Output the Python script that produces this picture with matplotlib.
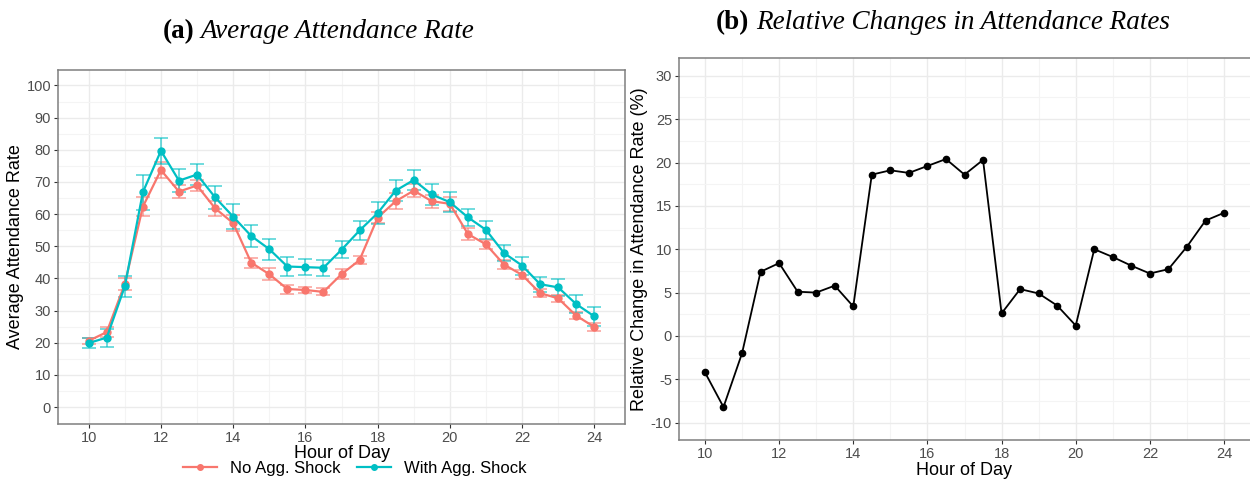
import numpy as np
from matplotlib import pyplot as plt
from matplotlib.lines import Line2D

# half-hour slots from 10:00 to 24:00
hours = np.arange(10, 24.5, 0.5)

no_shock = [20.6, 23.3, 38.3, 62.3, 73.7, 67.0, 68.9, 61.8, 57.2, 44.9, 41.3, 36.7, 36.4, 35.8, 41.3,
            45.7, 58.9, 64.0, 67.3, 64.0, 63.2, 53.8, 50.6, 44.3, 41.1, 35.4, 33.8, 28.4, 24.9]
no_shock_err = [1.0, 1.6, 1.8, 2.9, 2.6, 1.9, 1.8, 2.4, 2.5, 1.6, 1.9, 1.4, 1.0, 1.1, 1.6,
                1.3, 1.7, 2.5, 2.1, 2.0, 2.1, 1.9, 1.4, 1.5, 1.4, 1.2, 1.0, 1.1, 1.2]
with_shock = [19.9, 21.6, 37.5, 66.8, 79.7, 70.4, 72.3, 65.2, 59.2, 53.2, 49.1, 43.7, 43.5, 43.3, 48.9,
              54.9, 60.3, 67.3, 70.6, 66.1, 63.7, 59.0, 55.1, 47.9, 44.0, 38.2, 37.2, 32.0, 28.2]
with_shock_err = [1.6, 2.8, 3.4, 5.4, 4.1, 3.5, 3.4, 3.5, 3.8, 3.3, 3.3, 3.1, 2.5, 2.5, 2.7,
                  2.9, 3.4, 3.3, 3.0, 3.3, 3.1, 2.7, 2.7, 2.6, 2.8, 2.3, 2.7, 2.9, 2.9]
rel_change = [-4.2, -8.2, -2.0, 7.4, 8.4, 5.1, 5.0, 5.8, 3.4, 18.6, 19.1, 18.8, 19.6, 20.4, 18.6,
              20.3, 2.6, 5.4, 4.9, 3.5, 1.2, 10.0, 9.1, 8.1, 7.2, 7.7, 10.3, 13.3, 14.2]

red = '#F8766D'
cyan = '#00BFC4'
tick_gray = '#4D4D4D'

plt.rcParams['font.family'] = ['Liberation Sans', 'DejaVu Sans']
plt.rcParams['axes.unicode_minus'] = False

fig = plt.figure(figsize=(12.5, 4.83), dpi=100)
ax1 = fig.add_axes([0.0464, 0.122, 0.4536, 0.733])
ax2 = fig.add_axes([0.5432, 0.089, 0.4568, 0.79])


def style(ax):
    ax.set_facecolor('white')
    ax.grid(which='major', color='#EBEBEB', linewidth=1.0, zorder=0)
    ax.grid(which='minor', color='#F4F4F4', linewidth=0.8, zorder=0)
    ax.set_axisbelow(True)
    for s in ax.spines.values():
        s.set_color('#7F7F7F')
        s.set_linewidth(1.1)
    ax.tick_params(which='major', length=3, width=0.8, color='#333333', pad=2,
                   labelcolor=tick_gray, labelsize=10.5)
    ax.tick_params(which='minor', length=0)


# (a) average attendance
for y, e, c in [(no_shock, no_shock_err, red), (with_shock, with_shock_err, cyan)]:
    ax1.errorbar(hours, y, yerr=e, fmt='none', ecolor=c, elinewidth=1.2,
                 capsize=5, capthick=1.2, alpha=0.65, zorder=2)
    ax1.plot(hours, y, color=c, linewidth=1.6, marker='o', markersize=5, zorder=3)
ax1.set_xlim(9.15, 24.85)
ax1.set_ylim(-5.3, 104.8)
ax1.set_xticks(np.arange(10, 25, 2))
ax1.set_xticks(np.arange(11, 25, 2), minor=True)
ax1.set_yticks(np.arange(0, 101, 10))
ax1.set_yticks(np.arange(5, 101, 10), minor=True)
style(ax1)
ax1.set_xlabel('Hour of Day', fontsize=13, labelpad=0)
ax1.set_ylabel('Average Attendance Rate', fontsize=13, labelpad=2)

handles = [Line2D([], [], color=red, marker='o', markersize=4, linewidth=1.6),
           Line2D([], [], color=cyan, marker='o', markersize=4, linewidth=1.6)]
fig.legend(handles, ['No Agg. Shock', 'With Agg. Shock'], loc='center',
           bbox_to_anchor=(0.284, 0.03), ncol=2, frameon=False, fontsize=12,
           handlelength=2.0, columnspacing=1.0, handletextpad=0.8)

# (b) relative change
ax2.plot(hours, rel_change, color='black', linewidth=1.3, marker='o', markersize=4.5, zorder=3)
ax2.set_xlim(9.3, 24.7)
ax2.set_ylim(-12, 32)
ax2.set_xticks(np.arange(10, 25, 2))
ax2.set_xticks(np.arange(11, 25, 2), minor=True)
ax2.set_yticks(np.arange(-10, 31, 5))
ax2.set_yticks(np.arange(-7.5, 31, 5), minor=True)
style(ax2)
ax2.spines['right'].set_visible(False)
ax2.set_xlabel('Hour of Day', fontsize=13, labelpad=1)
ax2.set_ylabel('Relative Change in Attendance Rate (%)', fontsize=13, labelpad=2)

# panel titles
serif = ['Liberation Serif', 'DejaVu Serif']
fig.text(0.130, 0.934, '(a)', family=serif, fontsize=19.5, fontweight='bold', ha='left', va='center')
fig.text(0.160, 0.934, 'Average Attendance Rate', family=serif, fontsize=19.5, style='italic',
         ha='left', va='center')
fig.text(0.573, 0.954, '(b)', family=serif, fontsize=19.5, fontweight='bold', ha='left', va='center')
fig.text(0.605, 0.954, 'Relative Changes in Attendance Rates', family=serif, fontsize=19.5,
         style='italic', ha='left', va='center')

fig.savefig('out.png', dpi=100)
